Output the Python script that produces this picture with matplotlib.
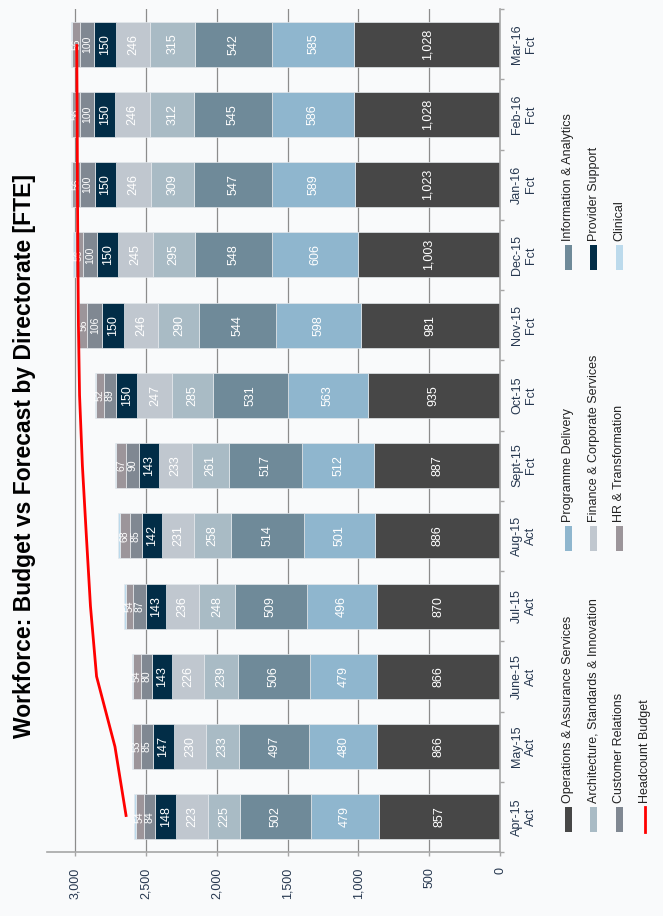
import matplotlib
matplotlib.use("Agg")
import matplotlib.pyplot as plt
from matplotlib.patches import Rectangle
from matplotlib.lines import Line2D
from matplotlib.ticker import FixedLocator, FuncFormatter
import numpy as np

plt.rcParams['font.family'] = ['Liberation Sans', 'DejaVu Sans']

# ---- data (FTE by directorate per month) ----
months = ["Apr-15", "May-15", "June-15", "Jul-15", "Aug-15", "Sept-15",
          "Oct-15", "Nov-15", "Dec-15", "Jan-16", "Feb-16", "Mar-16"]
status = ["Act", "Act", "Act", "Act", "Act", "Fct",
          "Fct", "Fct", "Fct", "Fct", "Fct", "Fct"]

ops = [857, 866, 866, 870, 886, 887, 935, 981, 1003, 1023, 1028, 1028]
programme = [479, 480, 479, 496, 501, 512, 563, 598, 606, 589, 586, 585]
info = [502, 497, 506, 509, 514, 517, 531, 544, 548, 547, 545, 542]
architecture = [225, 233, 239, 248, 258, 261, 285, 290, 295, 309, 312, 315]
finance = [223, 230, 226, 236, 231, 233, 247, 246, 245, 246, 246, 246]
provider = [148, 147, 143, 143, 142, 143, 150, 150, 150, 150, 150, 150]
customer = [84, 85, 80, 87, 85, 90, 89, 106, 100, 100, 100, 100]
hr = [54, 53, 54, 54, 68, 67, 52, 56, 56, 56, 56, 56]
clinical = [10, 10, 10, 10, 10, 10, 8, 10, 10, 10, 10, 10]
budget = [2640, 2720, 2850, 2893, 2922, 2950, 2970, 2978, 2982, 2985, 2987, 2990]

series_names = ["Operations & Assurance Services", "Programme Delivery",
                "Information & Analytics", "Architecture, Standards & Innovation",
                "Finance & Corporate Services", "Provider Support",
                "Customer Relations", "HR & Transformation", "Clinical"]
series_values = [ops, programme, info, architecture, finance, provider,
                 customer, hr, clinical]
series_colors = ["#474747", "#8FB6CE", "#6F8A99", "#A9BBC5", "#C0C7CF",
                 "#022D47", "#808892", "#9C959A", "#BCDAEC"]
# label font size per series (None = no data labels)
label_sizes = [9, 9, 9, 9, 9, 9, 7.5, 7.5, None]

BG = "#F9FAFB"
W, H = 663, 916

fig = plt.figure(figsize=(W / 100, H / 100), dpi=100)
fig.patch.set_facecolor(BG)

# axes box in pixel units (left, top, right, bottom)
L, T, R, B = 47, 9, 500, 852
ax = fig.add_axes([L / W, 1 - B / H, (R - L) / W, (B - T) / H])
ax.set_facecolor(BG)

y = np.arange(len(months))
left = np.zeros(len(months))
for name, vals, col, fs in zip(series_names, series_values, series_colors, label_sizes):
    vals = np.asarray(vals, dtype=float)
    ax.barh(y, vals, left=left, height=0.64, color=col,
            edgecolor="#E3E8EC", linewidth=0.5, zorder=2)
    if fs is not None:
        for yi, l0, v in zip(y, left, vals):
            ax.text(l0 + v / 2, yi, f"{int(v):,}", rotation=90,
                    ha="center", va="center", color="white",
                    fontsize=fs, zorder=4)
    left = left + vals

ax.plot(budget, y, color="#FF0000", linewidth=2.0, zorder=5,
        solid_capstyle="butt")

# value axis (runs right to left)
ax.set_xlim(3200, 0)
ax.set_ylim(-0.5, len(months) - 0.5)
ax.xaxis.set_major_locator(FixedLocator(np.arange(0, 3001, 500)))
ax.xaxis.set_major_formatter(FuncFormatter(lambda v, p: f"{int(v):,}"))
ax.tick_params(axis="x", direction="out", length=3, width=1, color="#A6A6A6",
               pad=8, labelsize=9, labelcolor="#26374F", labelrotation=90)
for lbl in ax.get_xticklabels():
    lbl.set_va("top")
    lbl.set_ha("center")
ax.grid(axis="x", color="#8C8C8C", linewidth=0.9)
ax.set_axisbelow(True)

# category axis on the right
ax.yaxis.tick_right()
ax.yaxis.set_major_locator(FixedLocator(np.arange(-0.5, len(months), 1.0)))
ax.yaxis.set_major_formatter(FuncFormatter(lambda v, p: ""))
ax.yaxis.set_minor_locator(FixedLocator(y))
ax.set_yticklabels([f"{m}\n{s}" for m, s in zip(months, status)], minor=True)
ax.tick_params(axis="y", which="major", direction="out", length=3, width=1,
               color="#A6A6A6", right=True, left=False)
ax.tick_params(axis="y", which="minor", length=0, pad=8, labelsize=9,
               labelcolor="#26374F", right=True, left=False)
for lbl in ax.get_yticklabels(minor=True):
    lbl.set_rotation(90)
    lbl.set_ha("left")
    lbl.set_va("center")
    lbl.set_multialignment("center")

for s in ["top", "left"]:
    ax.spines[s].set_visible(False)
for s in ["bottom", "right"]:
    ax.spines[s].set_color("#A6A6A6")
    ax.spines[s].set_linewidth(1.2)


def fx(px):
    return px / W


def fy(py):
    return 1 - py / H


# title
fig.text(fx(25), fy(456), "Workforce: Budget vs Forecast by Directorate [FTE]",
         rotation=90, ha="center", va="center", fontsize=16.5,
         fontweight="bold", color="black")

# legend, laid out in rows along the figure width
legend_rows_x = [568, 593.5, 619, 645]
legend_cols_bottom = [832, 551, 270]
legend_layout = [
    [0, 1, 2],
    [3, 4, 5],
    [6, 7, 8],
]
for r, row in enumerate(legend_layout):
    for c, idx in enumerate(row):
        xc = legend_rows_x[r]
        yb = legend_cols_bottom[c]
        fig.add_artist(Rectangle((fx(xc - 3.5), fy(yb)), 7 / W, 25 / H,
                                 transform=fig.transFigure,
                                 facecolor=series_colors[idx], edgecolor="none"))
        fig.text(fx(xc), fy(yb - 29), series_names[idx], rotation=90,
                 rotation_mode="anchor", ha="left", va="center",
                 fontsize=9, color="#222222")

xc = legend_rows_x[3]
yb = legend_cols_bottom[0]
fig.add_artist(Line2D([fx(xc), fx(xc)], [fy(yb), fy(yb - 25)],
                      transform=fig.transFigure, color="#FF0000", linewidth=2.0))
fig.text(fx(xc), fy(yb - 29), "Headcount Budget", rotation=90,
         rotation_mode="anchor", ha="left", va="center",
         fontsize=9, color="#222222")

fig.savefig("out.png", dpi=100, facecolor=BG)
